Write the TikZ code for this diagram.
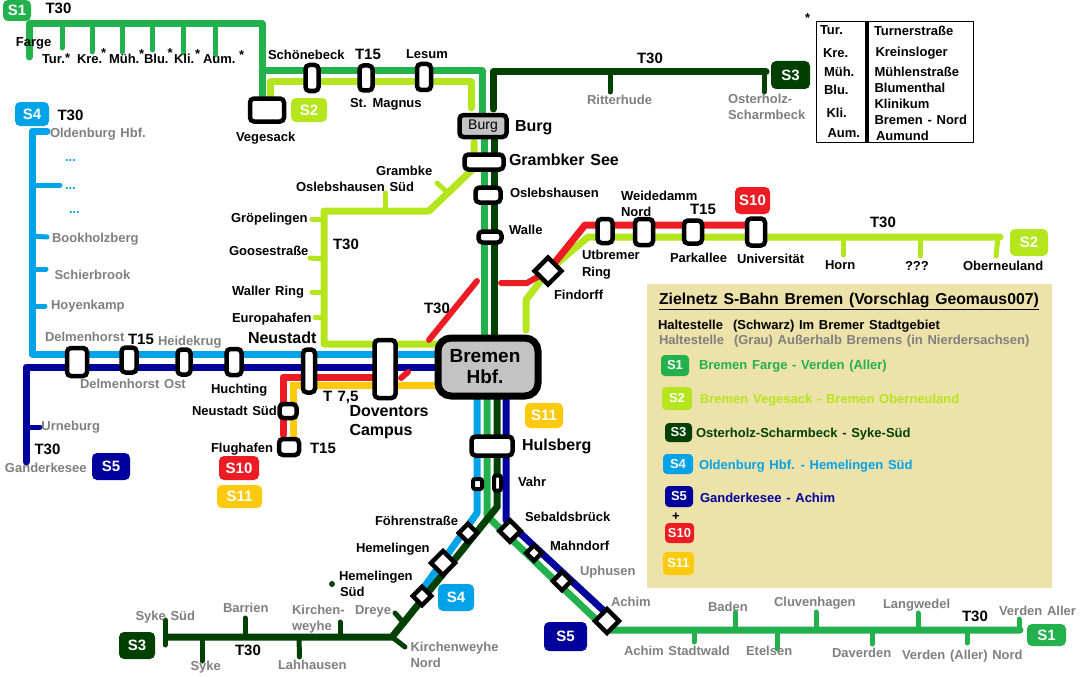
\documentclass[tikz,border=0pt]{standalone}
\usepackage{fontspec}
\setmainfont{Liberation Sans}[WordSpace=1.3]
\usetikzlibrary{calc,backgrounds}
\definecolor{cSa}{HTML}{22B14C}
\definecolor{cSb}{HTML}{B5E61D}
\definecolor{cSc}{HTML}{004000}
\definecolor{cSd}{HTML}{00A2E8}
\definecolor{cSe}{HTML}{00009C}
\definecolor{cSj}{HTML}{ED1C24}
\definecolor{cSk}{HTML}{FFC90E}
\definecolor{cGr}{HTML}{7F7F7F}
\definecolor{cPanel}{HTML}{EEE2AB}
\definecolor{cHub}{HTML}{C3C3C3}
\tikzset{
  ln/.style={line width=7pt,line cap=round,line join=round},
  tk/.style={line width=5pt,line cap=round},
  stn/.style={draw=black,line width=4.5pt,fill=white,rounded corners=4pt,inner sep=0pt,outer sep=0pt},
  dia/.style={draw=black,line width=4.5pt,fill=white,rotate=45,inner sep=0pt,outer sep=0pt},
  lab/.style={anchor=west,inner sep=0pt,outer sep=0pt,yshift=-1.8pt,text height=9.5pt,text depth=2.5pt,font=\fontsize{13}{15}\selectfont\bfseries},
  gy/.style={lab,text=cGr},
  big/.style={lab,font=\fontsize{16}{18}\selectfont\bfseries},
  ttl/.style={lab,font=\fontsize{15.8}{18}\selectfont\bfseries},
  tag/.style={lab,font=\fontsize{15}{17}\selectfont\bfseries},
  badge/.style={inner sep=0pt,rounded corners=5pt,text=white,font=\fontsize{15}{17}\selectfont\bfseries},
}
\newcount\mylabn
\newcommand{\mylab}[4][lab]{\global\advance\mylabn by 1\relax\node[#1] (L\the\mylabn) at (#2,#3) {#4};}
\newcommand{\mystn}[5]{\node[stn,minimum width=#4pt,minimum height=#5pt] (#1) at (#2,#3) {};}
\newcommand{\mydia}[4]{\node[dia,minimum size=#4pt] (#1) at (#2,#3) {};}
\newcommand{\mybadge}[8][]{\node[badge,fill=#7,minimum width={(#4-#2)*1pt},minimum height={(#5-#3)*1pt},#1] (#6) at ({(#2+#4)/2},{(#3+#5)/2}) {#8};}
\newcount\mytkn
\newcommand{\mytick}[5]{\global\advance\mytkn by 1\relax
  \coordinate (TA\the\mytkn) at (#2,#3);\coordinate (TB\the\mytkn) at (#4,#5);
  \draw[tk,#1] (TA\the\mytkn) -- (TB\the\mytkn);}
\begin{document}
\begin{tikzpicture}[x=1pt,y=-1pt]
\useasboundingbox (0,0) rectangle (1082,677);
\node[draw=none,fill=cPanel,inner sep=0pt,anchor=north west,minimum width=405pt,minimum height=304pt] (panel) at (647,284) {};

% stations
\mystn{veg}{267}{110}{34}{23}
\mystn{schoen}{312}{78}{13}{26}
\mystn{magnus}{366}{78}{13}{25}
\mystn{lesum}{424}{77}{14}{26}
\node[stn,fill=cHub,minimum width=47pt,minimum height=22pt,font=\fontsize{14}{16}\selectfont] (burg) at (483,126) {Burg};
\mystn{gsee}{484}{162}{39}{15}
\mystn{osl}{488}{195}{25}{15}
\mystn{walle}{490}{237}{23}{11}
\mystn{utb}{605}{231}{15}{24}
\mystn{weid}{644}{232}{18}{26}
\mystn{park}{693}{232}{18}{23}
\mystn{uni}{756}{232}{18}{27}
\mydia{find}{548}{271}{19}
\node[stn,line width=7pt,rounded corners=13pt,fill=cHub,minimum width=100pt,minimum height=58pt,align=center,font=\fontsize{19}{21}\selectfont\bfseries] (hbf) at (488,367) {Bremen\kern6pt\\[0pt]Hbf.\kern6pt};
\mystn{dl}{77}{362}{20}{28}
\mystn{dlo}{129}{360}{15}{25}
\mystn{heide}{184}{362}{13}{25}
\mystn{hucht}{234}{362}{15}{26}
\mystn{neu}{309}{371}{12}{43}
\mystn{dov}{385}{369}{21}{58}
\mystn{nsued}{288}{411}{17}{14}
\mystn{flug}{289}{447}{20}{16}
\mystn{huls}{492}{446}{41}{19}
\node[stn,rounded corners=2pt,line width=4pt,minimum width=9pt,minimum height=10pt] (vahra) at (477.5,484) {};
\node[stn,rounded corners=2pt,line width=4pt,minimum width=7pt,minimum height=15pt] (vahrb) at (497.5,483) {};
\mydia{foehr}{468}{533}{13}
\mydia{hem}{443}{563}{17}
\mydia{hems}{422}{596}{13}
\mydia{seb}{510}{531}{15}
\mydia{mahn}{534}{553}{11}
\mydia{uph}{562}{581}{13}
\mydia{achim}{607}{621}{17}
\node[circle,fill=cSc,inner sep=0pt,minimum size=6pt] (hsdot) at (332,584) {};

% connectors
\begin{pgfonlayer}{background}
% S1 north
\coordinate (sa1) at (29,57);\coordinate (sa2) at (29,24);\coordinate (sa3) at (262,24);
\coordinate (sa4) at (262,71);\coordinate (sa5) at (482,71);\coordinate (sa6) at (484,139);\coordinate (sa7) at (484,366);
\draw[ln,cSa] (sa1)--(sa2)--(sa3)--(sa3 |- veg.center);
\draw[ln,cSa] (sa4)--(sa5)--(sa5 |- burg.center);
\draw[ln,cSa] (sa6)--(sa7);
% S1 south
\coordinate (sa8) at (487,398);\coordinate (sa9) at (487,516);\coordinate (sa11) at (607,630);\coordinate (sa10) at (1020,630);
\draw[ln,cSa] (sa8)--(sa9)--(sa11)--(sa10);
% S2 north
\coordinate (sb1) at (270,82);\coordinate (sb2) at (471,82);\coordinate (sb3) at (471,108);
\draw[ln,cSb] (sb1 |- veg.center)--(sb1)--(sb2)--(sb3);
% S2 west
\coordinate (sb4) at (474,142);\coordinate (sb5) at (474,168);\coordinate (sb6) at (429,211);\coordinate (sb7) at (324,211);\coordinate (sb8) at (324,344);
\draw[ln,cSb] (sb4)--(sb5)--(sb6)--(sb7)--(sb8)--(sb8 -| hbf.center);
% S2 east
\coordinate (sb9) at (526,330);\coordinate (sb10) at (526,300);\coordinate (sb11) at (588,237);\coordinate (sb12) at (1000,237);
\draw[ln,cSb] (sb9)--(sb10)--(find.center)--(sb11)--(sb12);
% S3 north
\coordinate (sc1) at (766,72);\coordinate (sc2) at (493,72);\coordinate (sc3) at (493,109);\coordinate (sc4) at (494,139);\coordinate (sc5) at (494,366);
\draw[ln,cSc] (sc1)--(sc2)--(sc3);
\draw[ln,cSc] (sc4)--(sc5);
% S4
\coordinate (sd1) at (47,131);\coordinate (sd2) at (32,131);\coordinate (sd3) at (32,354);
\draw[ln,cSd] (sd1)--(sd2)--(sd3)--(sd3 -| hbf.center);
\coordinate (sd4) at (477,398);\coordinate (sd5) at (477,513);\coordinate (sd6) at (420,593);
\draw[ln,cSd,line cap=butt] (sd4)--(sd5)--(sd6);
% S5
\coordinate (se1) at (26,462);\coordinate (se2) at (26,367);
\draw[ln,cSe] (se1)--(se2)--(se2 -| hbf.center);
\coordinate (se3) at (506,398);\coordinate (se4) at (506,520);\coordinate (se5) at (604,611);
\draw[ln,cSe,line cap=butt] (se3)--(se4)--(se5);
% S3 south
\coordinate (sc6) at (497,398);\coordinate (sc7) at (497,507);\coordinate (sc8) at (392,637);\coordinate (sc9) at (165,637);
\draw[ln,cSc,line cap=butt,line join=miter] (sc6)--(sc7)--(sc8)--(sc9);
% S10
\coordinate (sj1) at (283,435);\coordinate (sj2) at (283,377);\coordinate (sj3) at (385,377);
\coordinate (sj4) at (401,378);\coordinate (sj5) at (408,372);
\draw[ln,cSj] (sj1)--(sj2)--(sj3);
\draw[line width=6pt,line cap=round,cSj] (sj4)--(sj5);
\coordinate (sj6) at (429,340);\coordinate (sj7) at (477,281);
\draw[line width=6pt,line cap=round,cSj] (sj6)--(sj7);
\coordinate (sj8) at (501,283);\coordinate (sj9) at (527,283);
\draw[line width=6pt,line cap=round,cSj] (sj8)--(sj9)--(find.center);
\coordinate (sj10) at (585,225);
\draw[ln,cSj,line cap=butt] (find.center)--(sj10)--(sj10 -| uni.center);
% S11
\coordinate (sk1) at (293,437);\coordinate (sk2) at (293,385);
\draw[ln,cSk,line cap=butt,line join=miter] (sk1)--(sk2)--(sk2 -| hbf.center);
% ticks S1
\mytick{cSa}{62}{24}{62}{48}\mytick{cSa}{92}{24}{92}{52}\mytick{cSa}{122}{24}{122}{52}
\mytick{cSa}{152.5}{24}{152.5}{50}\mytick{cSa}{183.5}{24}{183.5}{53}\mytick{cSa}{215}{24}{215}{55}
\mytick{cSa}{694}{630}{694}{642}\mytick{cSa}{735}{630}{735}{612}\mytick{cSa}{777}{630}{777}{649}
\mytick{cSa}{816}{630}{816}{612}\mytick{cSa}{872}{630}{872}{644}\mytick{cSa}{918}{630}{918}{613}
\mytick{cSa}{967}{630}{967}{643}\mytick{cSa}{1019}{630}{1019}{619}
% ticks S2
\mytick{cSb}{437}{183}{448}{193}\mytick{cSb}{385}{211}{385}{193}\mytick{cSb}{324}{219}{312}{219}
\mytick{cSb}{324}{259}{310}{258}\mytick{cSb}{324}{292}{312}{292}\mytick{cSb}{324}{317}{315}{317}
\mytick{cSb}{843}{237}{843}{255}\mytick{cSb}{920}{237}{920}{256}\mytick{cSb}{998}{237}{996}{256}
% ticks S3
\mytick{cSc}{610}{72}{610}{92}\mytick{cSc}{764}{72}{764}{92}
\mytick{cSc}{165}{620}{165}{645}\mytick{cSc}{245}{637}{245}{618}\mytick{cSc}{202}{637}{202}{661}
\mytick{cSc}{299}{637}{299.5}{657}\mytick{cSc}{340}{637}{340}{622}\mytick{cSc}{395}{613}{403}{622}\mytick{cSc}{392}{637}{405}{647}
% ticks S4, S5
\mytick{cSd}{32}{185}{60}{185}\mytick{cSd}{32}{236}{47}{237}\mytick{cSd}{32}{269}{46}{269}\mytick{cSd}{32}{306}{45}{306}
\mytick{cSe}{26}{427}{40}{427}
\end{pgfonlayer}

% badges
\mybadge{3}{0}{31}{21}{bSa}{cSa}{S1}
\mybadge{15}{102}{49}{126}{bSd}{cSd}{S4}
\mybadge{291}{98}{327}{122}{bSb}{cSb}{S2}
\mybadge{771}{61}{810}{89}{bSc}{cSc}{S3}
\mybadge{735}{187}{770}{214}{bSj}{cSj}{S10}
\mybadge{1010}{229}{1048}{256}{bSbe}{cSb}{S2}
\mybadge{92}{453}{130}{480}{bSe}{cSe}{S5}
\mybadge{219}{456}{259}{480}{bSjb}{cSj}{S10}
\mybadge{217}{485}{262}{508}{bSkb}{cSk}{S11}
\mybadge{525}{403}{563}{428}{bSk}{cSk}{S11}
\mybadge{438}{584}{474}{611}{bSds}{cSd}{S4}
\mybadge{119}{632}{155}{659}{bScs}{cSc}{S3}
\mybadge{544}{622}{587}{651}{bSes}{cSe}{S5}
\mybadge{1027}{624}{1066}{646}{bSas}{cSa}{S1}
\tikzset{badge/.append style={font=\fontsize{13}{15}\selectfont\bfseries,rounded corners=4pt}}
\mybadge{661}{355}{689}{376}{kSa}{cSa}{S1}
\mybadge{662}{387}{692}{410}{kSb}{cSb}{S2}
\mybadge{665}{423}{692}{442}{kSc}{cSc}{S3}
\mybadge{663}{454}{693}{474}{kSd}{cSd}{S4}
\mybadge{665}{486}{693}{507}{kSe}{cSe}{S5}
\mybadge{665}{523}{694}{543}{kSj}{cSj}{S10}
\mybadge{663}{552}{694}{575}{kSk}{cSk}{S11}

% key box
\node[draw=black,line width=1pt,inner sep=0pt,anchor=north west,minimum width=157pt,minimum height=121pt] (keybox) at (816,21) {};
\coordinate (kt) at (867,21);\coordinate (kb) at (867,142);
\draw[line width=4pt,black] (kt)--(kb);

% labels: top left
\mylab[tag]{45.5}{8}{T30}
\mylab{16}{41}{Farge}
\mylab{42}{58}{Tur.}\mylab{65}{57.5}{*}
\mylab{77}{58}{Kre.}\mylab{101}{52.5}{*}
\mylab{109}{58}{Müh.}\mylab{139}{53.5}{*}
\mylab{144}{58}{Blu.}\mylab{167.5}{52.5}{*}
\mylab{174}{58}{Kli.}\mylab{195}{53.5}{*}
\mylab{203}{58}{Aum.}\mylab{239}{54.5}{*}
\mylab{268}{54}{Schönebeck}
\mylab[tag]{355}{54}{T15}
\mylab{406}{53}{Lesum}
\mylab{350}{102}{St. Magnus}
\mylab{236}{136}{Vegesack}
\mylab[big]{515}{126}{Burg}
\mylab[big]{509}{160}{Grambker See}
\mylab{376}{170}{Grambke}
\mylab{296}{186}{Oslebshausen Süd}
\mylab{231}{217}{Gröpelingen}
\mylab{229}{250}{Goosestraße}
\mylab{232}{290}{Waller Ring}
\mylab{232}{317}{Europahafen}
\mylab[tag]{333}{244}{T30}
\mylab[tag]{424}{308}{T30}
\mylab{510}{192}{Oslebshausen}
\mylab{509}{229}{Walle}
% north east
\mylab[tag]{637}{58}{T30}
\mylab[gy]{587}{99}{Ritterhude}
\mylab[gy]{728}{98}{Osterholz-}
\mylab[gy]{728}{114}{Scharmbeck}
\mylab{621}{195}{Weidedamm}
\mylab{621}{211}{Nord}
\mylab[tag]{690}{209}{T15}
\mylab{582}{254}{Utbremer}
\mylab{582}{271}{Ring}
\mylab{670}{257}{Parkallee}
\mylab{737}{258}{Universität}
\mylab{554}{294}{Findorff}
\mylab{825}{264}{Horn}
\mylab{905}{265}{???}
\mylab{963}{265}{Oberneuland}
\mylab[tag]{870}{222}{T30}
% key box text
\mylab{805}{17.5}{*}
\mylab{820}{29}{Tur.}\mylab{823}{52}{Kre.}\mylab{824}{71}{Müh.}\mylab{824}{89}{Blu.}\mylab{826.5}{112}{Kli.}\mylab{827.5}{132}{Aum.}
\mylab{874}{30}{Turnerstraße}\mylab{875.5}{51}{Kreinsloger}\mylab{874.5}{71}{Mühlenstraße}\mylab{874.5}{87}{Blumenthal}
\mylab{874.5}{103}{Klinikum}\mylab{874.5}{119}{Bremen - Nord}\mylab{876}{135}{Aumund}
% west
\mylab[tag]{57.5}{115}{T30}
\mylab[gy]{50}{132}{Oldenburg Hbf.}
\mylab[lab,text=cSd]{65}{156}{...}
\mylab[lab,text=cSd]{65}{184}{...}
\mylab[lab,text=cSd]{69}{208}{...}
\mylab[gy]{52}{237}{Bookholzberg}
\mylab[gy]{54.5}{274}{Schierbrook}
\mylab[gy]{51}{304}{Hoyenkamp}
\mylab[gy]{45}{336}{Delmenhorst}
\mylab[tag]{128}{339}{T15}
\mylab[gy]{158}{340}{Heidekrug}
\mylab[big]{248}{338}{Neustadt}
\mylab[gy]{80}{383}{Delmenhorst Ost}
\mylab{211}{388}{Huchting}
\mylab[tag]{323}{396}{T 7,5}
\mylab[big]{349.5}{411}{Doventors}
\mylab[big]{349.5}{430}{Campus}
\mylab{192}{410}{Neustadt Süd}
\mylab{211}{447}{Flughafen}
\mylab[tag]{310}{448}{T15}
\mylab[gy]{41.5}{425}{Urneburg}
\mylab[tag]{34.5}{449}{T30}
\mylab[gy]{5}{467}{Ganderkesee}
% south
\mylab[big]{522}{445}{Hulsberg}
\mylab{518}{481}{Vahr}
\mylab{525}{516}{Sebaldsbrück}
\mylab{375}{520}{Föhrenstraße}
\mylab{356}{547}{Hemelingen}
\mylab{339}{575}{Hemelingen}
\mylab{340}{591}{Süd}
\mylab{550}{545}{Mahndorf}
\mylab[gy]{580}{570}{Uphusen}
\mylab[gy]{611}{601}{Achim}
\mylab[gy]{708}{606}{Baden}
\mylab[gy]{774}{601}{Cluvenhagen}
\mylab[gy]{883}{603}{Langwedel}
\mylab[tag]{962}{616}{T30}
\mylab[gy]{999}{610}{Verden Aller}
\mylab[gy]{624}{650}{Achim Stadtwald}
\mylab[gy]{746}{650}{Etelsen}
\mylab[gy]{832}{652}{Daverden}
\mylab[gy]{902}{654}{Verden (Aller) Nord}
\mylab[gy]{135.5}{615}{Syke Süd}
\mylab[gy]{223}{607}{Barrien}
\mylab[gy]{292}{609}{Kirchen-}
\mylab[gy]{292}{625}{weyhe}
\mylab[gy]{355}{609}{Dreye}
\mylab[gy]{190.5}{665}{Syke}
\mylab[tag]{235}{650}{T30}
\mylab[gy]{278}{664}{Lahhausen}
\mylab[gy]{410.5}{646}{Kirchenweyhe}
\mylab[gy]{410.5}{662}{Nord}
% panel
\mylab[ttl]{659}{299}{\underline{Zielnetz S-Bahn Bremen (Vorschlag Geomaus007)}}
\mylab{658}{324}{Haltestelle}
\mylab{733}{324}{(Schwarz) Im Bremer Stadtgebiet}
\mylab[gy]{659}{339}{Haltestelle}
\mylab[gy]{734}{339}{(Grau) Außerhalb Bremens (in Nierdersachsen)}
\mylab[lab,text=cSa]{699}{364}{Bremen Farge - Verden (Aller)}
\mylab[lab,text=cSb]{700}{398}{Bremen Vegesack - Bremen Oberneuland}
\mylab[lab,text=cSc]{696}{432}{Osterholz-Scharmbeck - Syke-Süd}
\mylab[lab,text=cSd]{699}{464}{Oldenburg Hbf. - Hemelingen Süd}
\mylab[lab,text=cSe]{700}{497}{Ganderkesee - Achim}
\mylab{672}{515}{+}
\end{tikzpicture}
\end{document}
